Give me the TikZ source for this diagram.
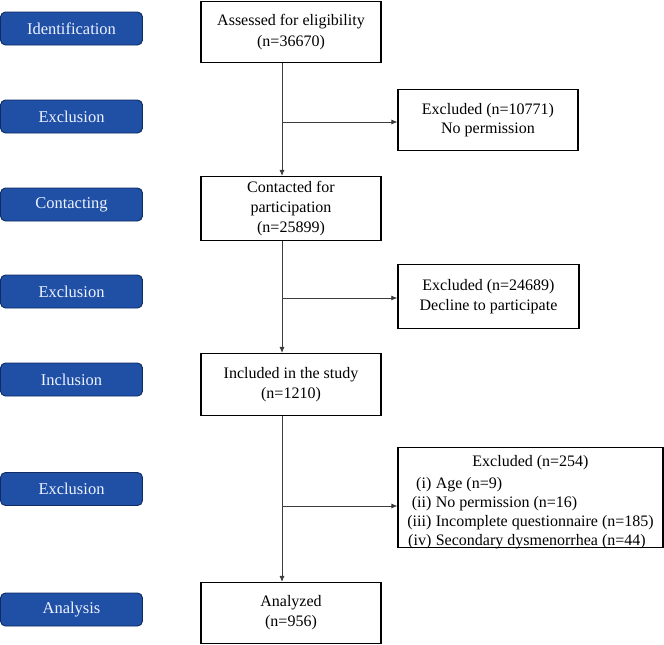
\documentclass[tikz,border=0pt]{standalone}
\usepackage{fontspec}
\setmainfont{Liberation Serif}
\usetikzlibrary{arrows.meta}
\definecolor{stagefill}{RGB}{31,80,166}
\definecolor{stagedraw}{RGB}{16,42,100}
\definecolor{stagetext}{RGB}{238,242,255}
\definecolor{linegray}{RGB}{60,60,60}
\begin{document}
\begin{tikzpicture}[x=1pt,y=-1pt,
  stage/.style={draw=stagedraw, fill=stagefill, rounded corners=5pt, line width=0.9pt,
    minimum width=142pt, minimum height=33pt, text=stagetext, inner sep=0pt,
    font=\fontsize{16.5}{20}\selectfont},
  flowbox/.style={draw=black, line width=1.1pt, fill=white, minimum width=180pt,
    align=center, inner sep=0pt, font=\fontsize{16}{20}\selectfont},
  conn/.style={draw=linegray, line width=0.8pt},
  arr/.style={conn, -{Latex[length=6pt,width=5pt]}}]
\useasboundingbox (0,0) rectangle (664,645);

% stage labels
\node[stage] (s1) at (71.5,28.5) {Identification};
\node[stage] (s2) at (71.5,116.5) {Exclusion};
\node[stage] (s3) at (71.5,204.5) {Contacting};
\node[stage] (s4) at (71.5,291.5) {Exclusion};
\node[stage] (s5) at (71.5,379.5) {Inclusion};
\node[stage] (s6) at (71.5,489) {Exclusion};
\node[stage] (s7) at (71.5,609.5) {Analysis};

% main flow
\node[flowbox, minimum height=61pt, font=\fontsize{16}{21}\selectfont] (A) at (291,32) {Assessed for eligibility\\(n=36670)};
\node[flowbox, minimum height=64pt] (C) at (291,208.5) {Contacted for\\participation\\(n=25899)};
\node[flowbox, minimum height=62pt] (I) at (291,384.5) {Included in the study\\(n=1210)};
\node[flowbox, minimum height=61pt] (N) at (291,613) {Analyzed\\(n=956)};

% exclusion boxes
\node[flowbox, minimum height=61pt, font=\fontsize{16}{18.5}\selectfont] (E1) at (488,120) {Excluded (n=10771)\\No permission};
\node[flowbox, minimum height=64pt, minimum width=181pt, line width=1.4pt] (E2) at (488.5,296.5) {Excluded (n=24689)\\Decline to participate};
\node[flowbox, minimum height=100pt, minimum width=265pt, font=\fontsize{16}{19}\selectfont] (E3) at (530.5,497.5)
  {\raisebox{-5pt}[\height][\depth]{\renewcommand{\arraystretch}{1}\begin{tabular}{@{}r@{\hspace{4.5pt}}l@{}}
   \multicolumn{2}{c}{Excluded (n=254)}\\[3pt]
   (i) & Age (n=9)\\
   (ii) & No permission (n=16)\\
   (iii) & Incomplete questionnaire (n=185)\\
   (iv) & Secondary dysmenorrhea (n=44)
   \end{tabular}}};

% trunk coordinates
\coordinate (tx) at (282,0);
\coordinate (b1) at (282,122);
\coordinate (b2) at (282,298);
\coordinate (b3) at (282,506);

\draw[arr] (A.south -| tx) -- (C.north -| tx);
\draw[arr] (C.south -| tx) -- (I.north -| tx);
\draw[arr] (I.south -| tx) -- (N.north -| tx);

\draw[arr] (b1) -- (E1.west |- b1);
\draw[arr] (b2) -- (E2.west |- b2);
\draw[arr] (b3) -- (E3.west |- b3);
\end{tikzpicture}
\end{document}
